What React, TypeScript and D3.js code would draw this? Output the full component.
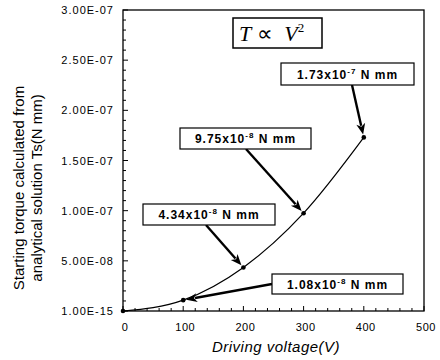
import React, { useEffect, useRef } from 'react';
import * as d3 from 'd3';

const voltages = [0, 100, 200, 300, 400];
const torques = [1e-15, 1.08e-8, 4.34e-8, 9.75e-8, 1.73e-7];
const xTicks = [0, 100, 200, 300, 400, 500];
const yTicks = [1e-15, 5e-8, 1e-7, 1.5e-7, 2e-7, 2.5e-7, 3e-7];
const labelMant = ['1.08x10', '4.34x10', '9.75x10', '1.73x10'];
const labelExp = ['-8', '-8', '-8', '-7'];

// box placement for each callout (pixels) -- layout, not data
const boxes = [
  { x: 272, y: 274, w: 131, h: 20, ax: 272, ay: 284 },
  { x: 143, y: 204, w: 132, h: 21, ax: 206, ay: 225 },
  { x: 180, y: 128, w: 131, h: 21, ax: 246, ay: 149 },
  { x: 281, y: 63, w: 133, h: 22, ax: 352, ay: 85 },
];

const fmtE = (v: number) => {
  const [m, e] = v.toExponential(2).split('e');
  const n = parseInt(e, 10);
  const s = n < 0 ? '-' : '+';
  return `${m}E${s}${String(Math.abs(n)).padStart(2, '0')}`;
};

export default function App() {
  const ref = useRef<SVGSVGElement>(null);

  useEffect(() => {
    const svg = d3.select(ref.current);
    svg.selectAll('*').remove();
    const left = 123, right = 424, top = 10, bottom = 311;
    const x = d3.scaleLinear().domain([0, 500]).range([left, right]);
    const y = d3.scaleLinear().domain([0, 3e-7]).range([bottom, top]);
    const font = 'Liberation Sans, Arial, sans-serif';

    // frame
    svg.append('rect')
      .attr('x', left).attr('y', top)
      .attr('width', right - left).attr('height', bottom - top)
      .attr('fill', 'white').attr('stroke', 'black').attr('stroke-width', 1.3);

    // ticks (inward)
    const yMinor = d3.range(0, 3.0001e-7, 1e-8);
    svg.append('g').selectAll('line').data(yMinor).enter().append('line')
      .attr('x1', left).attr('x2', (d, i) => left + (i % 5 === 0 ? 5 : 3))
      .attr('y1', d => y(d)).attr('y2', d => y(d))
      .attr('stroke', 'black').attr('stroke-width', 1);
    const xMinor = d3.range(0, 501, 20);
    svg.append('g').selectAll('line').data(xMinor).enter().append('line')
      .attr('x1', d => x(d)).attr('x2', d => x(d))
      .attr('y1', bottom).attr('y2', (d, i) => bottom - (i % 5 === 0 ? 5 : 3))
      .attr('stroke', 'black').attr('stroke-width', 1);

    svg.append('g').selectAll('text').data(yTicks).enter().append('text')
      .attr('x', left - 9).attr('y', d => y(d) + 4)
      .attr('text-anchor', 'end')
      .attr('font-family', font).attr('font-size', 11).attr('letter-spacing', 1)
      .text(d => fmtE(d));
    svg.append('g').selectAll('text').data(xTicks).enter().append('text')
      .attr('x', d => x(d) + 2).attr('y', 331)
      .attr('text-anchor', 'middle')
      .attr('font-family', font).attr('font-size', 11).attr('letter-spacing', 0.5)
      .text(d => d);

    // axis titles
    svg.append('text')
      .attr('transform', 'translate(276,352)')
      .attr('text-anchor', 'middle')
      .attr('font-family', font).attr('font-size', 15).attr('font-style', 'italic')
      .attr('letter-spacing', 0.5)
      .text('Driving voltage(V)');
    const yt = svg.append('text')
      .attr('transform', 'translate(24,188) rotate(-90)')
      .attr('text-anchor', 'middle')
      .attr('font-family', font).attr('font-size', 15);
    yt.append('tspan').attr('x', 0).attr('dy', 0).text('Starting torque calculated from');
    yt.append('tspan').attr('x', 0).attr('dy', 18).text('analytical solution Ts(N mm)');

    // curve
    const pts = voltages.map((v, i) => [v, torques[i]] as [number, number]);
    const line = d3.line<[number, number]>()
      .x(d => x(d[0])).y(d => y(d[1]))
      .curve(d3.curveMonotoneX);
    svg.append('path').datum(pts)
      .attr('d', line)
      .attr('fill', 'none').attr('stroke', 'black').attr('stroke-width', 1.2);
    svg.append('g').selectAll('circle').data(pts).enter().append('circle')
      .attr('cx', d => x(d[0])).attr('cy', d => y(d[1])).attr('r', 2.3)
      .attr('fill', 'black');

    // callouts
    boxes.forEach((b, i) => {
      const p = pts[i + 1];
      const tx = x(p[0]), ty = y(p[1]);
      const dx = tx - b.ax, dy = ty - b.ay;
      const len = Math.hypot(dx, dy);
      const ux = dx / len, uy = dy / len;
      const tipX = tx - ux * 3, tipY = ty - uy * 3;
      const hl = 11, hw = 4.5;
      const bx = tipX - ux * hl, by = tipY - uy * hl;
      svg.append('line')
        .attr('x1', b.ax).attr('y1', b.ay).attr('x2', bx + ux * 2).attr('y2', by + uy * 2)
        .attr('stroke', 'black').attr('stroke-width', 2.4);
      svg.append('polygon')
        .attr('points', [
          [tipX, tipY],
          [bx - uy * hw, by + ux * hw],
          [bx + ux * 3, by + uy * 3],
          [bx + uy * hw, by - ux * hw],
        ].map(q => q.join(',')).join(' '))
        .attr('fill', 'black');

      svg.append('rect')
        .attr('x', b.x).attr('y', b.y).attr('width', b.w).attr('height', b.h)
        .attr('fill', 'white').attr('stroke', 'black').attr('stroke-width', 1.2);
      const t = svg.append('text')
        .attr('x', b.x + b.w / 2).attr('y', b.y + b.h / 2 + 4.5)
        .attr('text-anchor', 'middle')
        .attr('font-family', font).attr('font-size', 12).attr('font-weight', 'bold')
        .attr('letter-spacing', 1);
      t.append('tspan').text(labelMant[i]);
      t.append('tspan').attr('dy', -5).attr('font-size', 8).text(labelExp[i]);
      t.append('tspan').attr('dy', 5).text(' N mm');
    });

    // T ∝ V² box
    svg.append('rect')
      .attr('x', 233).attr('y', 18).attr('width', 89).attr('height', 30)
      .attr('fill', 'white').attr('stroke', 'black').attr('stroke-width', 1.5);
    const tv = svg.append('text')
      .attr('x', 239).attr('y', 41)
      .attr('font-family', 'Liberation Serif, Times New Roman, serif').attr('font-size', 22);
    tv.append('tspan').attr('font-style', 'italic').text('T');
    tv.append('tspan').attr('dx', 6).text('∝');
    tv.append('tspan').attr('dx', 11).attr('font-style', 'italic').text('V');
    tv.append('tspan').attr('dy', -9).attr('font-size', 13).text('2');
  }, []);

  return (
    <div>
      <svg ref={ref} width={440} height={360}
        style={{ position: 'absolute', left: 0, top: 0, display: 'block' }} />
    </div>
  );
}
